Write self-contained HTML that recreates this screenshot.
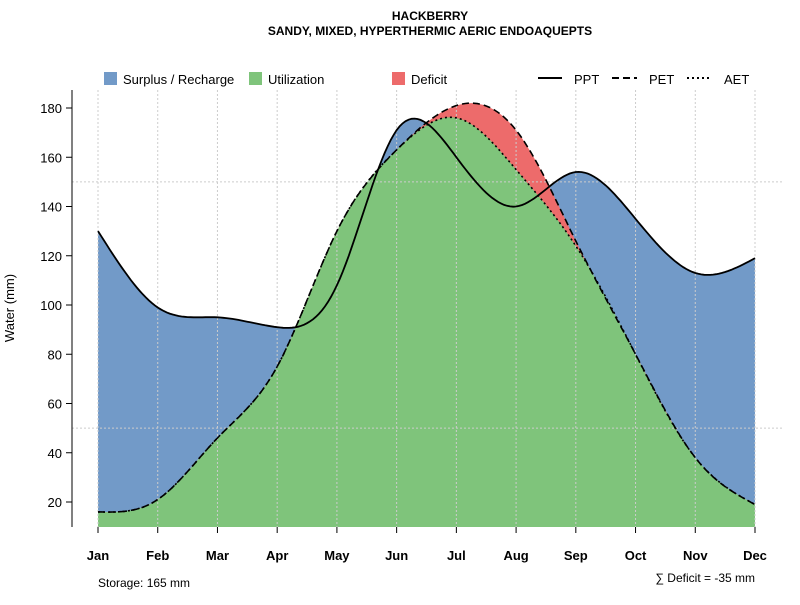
<!DOCTYPE html>
<html><head><meta charset="utf-8"><style>
body{margin:0;background:#fff;font-family:"Liberation Sans",sans-serif}
text{font-family:"Liberation Sans",sans-serif}
</style></head><body>
<svg id="chart" width="800" height="600" xmlns="http://www.w3.org/2000/svg">
<text x="430" y="20" text-anchor="middle" font-size="12" font-weight="bold">HACKBERRY</text>
<text x="430" y="35" text-anchor="middle" font-size="12" font-weight="bold">SANDY, MIXED, HYPERTHERMIC AERIC ENDOAQUEPTS</text>
<g id="plot"></g>
<g id="legend">
<rect x="104" y="72" width="13" height="13" fill="#729ac8"/><text x="123" y="84" font-size="13">Surplus / Recharge</text>
<rect x="249" y="72" width="13" height="13" fill="#7fc47b"/><text x="268" y="84" font-size="13">Utilization</text>
<rect x="392" y="72" width="13" height="13" fill="#ed6b6b"/><text x="411" y="84" font-size="13">Deficit</text>
<line x1="538" y1="78" x2="562" y2="78" stroke="#000" stroke-width="2"/><text x="574" y="84" font-size="13">PPT</text>
<line x1="612" y1="78" x2="637" y2="78" stroke="#000" stroke-width="2" stroke-dasharray="7,4"/><text x="649" y="84" font-size="13">PET</text>
<line x1="687" y1="78" x2="712" y2="78" stroke="#000" stroke-width="2" stroke-dasharray="2,3"/><text x="724" y="84" font-size="13">AET</text>
</g>
<text transform="translate(14,308) rotate(-90)" text-anchor="middle" font-size="13">Water (mm)</text>
<text x="98" y="587" font-size="12">Storage: 165 mm</text>
<text x="755" y="582" text-anchor="end" font-size="12">∑ Deficit = -35 mm</text>
</svg>
<script>
const months=["Jan","Feb","Mar","Apr","May","Jun","Jul","Aug","Sep","Oct","Nov","Dec"];
const ppt=[130,99,95,91,108,171,160,140,154,135,113,119];
const pet=[16,21,46,75,130,163,181,171,126,80,38,19];
const aet=[16,21,46,75,130,163,176,155,124,80,38,19];
const yTicks=[20,40,60,80,100,120,140,160,180];
const NS="http://www.w3.org/2000/svg";
const x=i=>98+i*(755-98)/11;
const y=v=>551.25-v*2.4625;
const base=527;
const plot=document.getElementById('plot');
function mk(t,a){const e=document.createElementNS(NS,t);for(const k in a)e.setAttribute(k,a[k]);plot.appendChild(e);return e;}
function smooth(arr){
 const n=arr.length;const M=new Array(n).fill(0);
 const a=[],b=[],c=[],d=[];
 for(let i=1;i<n-1;i++){a.push(1);b.push(4);c.push(1);d.push(6*(arr[i+1]-2*arr[i]+arr[i-1]));}
 const m=d.length;
 for(let i=1;i<m;i++){const w=a[i]/b[i-1];b[i]-=w*c[i-1];d[i]-=w*d[i-1];}
 const sol=new Array(m);sol[m-1]=d[m-1]/b[m-1];
 for(let i=m-2;i>=0;i--)sol[i]=(d[i]-c[i]*sol[i+1])/b[i];
 for(let i=0;i<m;i++)M[i+1]=sol[i];
 const pts=[];
 for(let i=0;i<n-1;i++){for(let s=0;s<20;s++){const t=s/20;
  const v=(1-t)*arr[i]+t*arr[i+1]+((Math.pow(1-t,3)-(1-t))*M[i]+(Math.pow(t,3)-t)*M[i+1])/6;
  pts.push([x(i+t),y(v)]);}}
 pts.push([x(n-1),y(arr[n-1])]);return pts;}
const line=p=>p.map((q,i)=>(i?'L':'M')+q[0].toFixed(1)+','+q[1].toFixed(1)).join('');
const area=p=>line(p)+`L${x(11)},${base}L${x(0)},${base}Z`;
const sP=smooth(ppt),sE=smooth(pet),sA=smooth(aet);
let e;
e=mk('path',{d:area(sP),fill:'#729ac8'});


e=mk('path',{d:area(sE),fill:'#ed6b6b'});


e=mk('path',{d:area(sA),fill:'#7fc47b'});


months.forEach((m,i)=>{
 e=mk('line',{x1:x(i),x2:x(i),y1:90,y2:base,stroke:'#ccc','stroke-dasharray':'2,2'});
 
 
 e=mk('line',{x1:x(i),x2:x(i),y1:base,y2:533,stroke:'#000'});
 
 
 e=mk('text',{x:x(i),y:560,'text-anchor':'middle','font-size':13,'font-weight':'bold'});e.textContent=m;
 
 
});
[50,150].forEach(v=>{
 e=mk('line',{x1:72,x2:782,y1:y(v),y2:y(v),stroke:'#ccc','stroke-dasharray':'2,2'});
 
 
});
e=mk('path',{d:line(sA),fill:'none',stroke:'#000','stroke-width':1.6,'stroke-dasharray':'2,3'});


e=mk('path',{d:line(sE),fill:'none',stroke:'#000','stroke-width':1.6,'stroke-dasharray':'7,4'});


e=mk('path',{d:line(sP),fill:'none',stroke:'#000','stroke-width':1.8});


e=mk('line',{x1:72,x2:72,y1:90,y2:527,stroke:'#000'});


yTicks.forEach(v=>{
 e=mk('line',{x1:66,x2:72,y1:y(v),y2:y(v),stroke:'#000'});
 
 
 e=mk('text',{x:62,y:y(v)+5,'text-anchor':'end','font-size':13});e.textContent=v;
 
 
});
</script>
</body></html>
